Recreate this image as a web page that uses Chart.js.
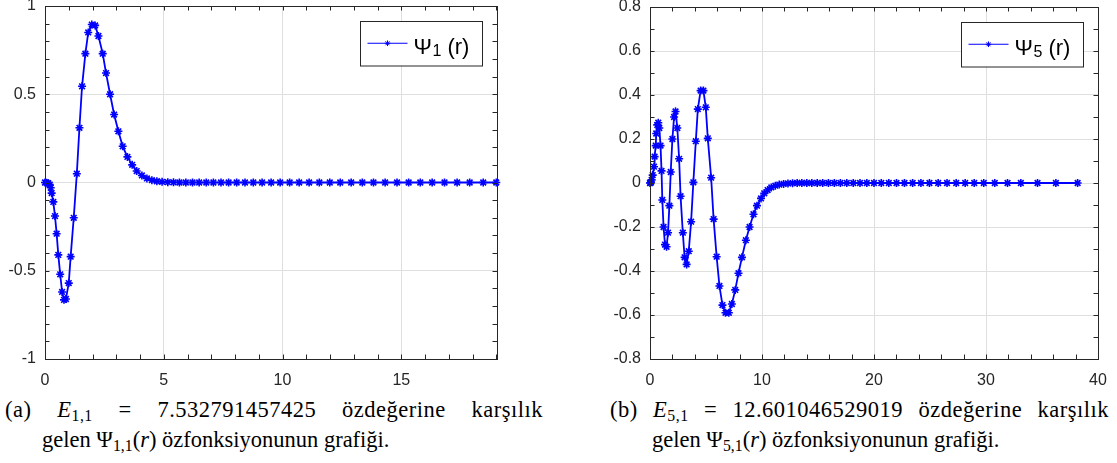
<!DOCTYPE html>
<html>
<head>
<meta charset="utf-8">
<script src="https://cdn.jsdelivr.net/npm/chart.js@4/dist/chart.umd.min.js"></script>
<style>
  html, body { margin: 0; padding: 0; background: #fff; }
  body { width: 1117px; height: 463px; position: relative; overflow: hidden; }
  canvas { position: absolute; top: 0; }
  #c1 { left: 0; }
  #c2 { left: 600px; }
  .cap { position: absolute; font-family: "Liberation Serif", "Times New Roman", serif; font-size: 22.5px; line-height: 24px; color: #000; white-space: nowrap; }
  .cap sub { font-size: 70%; vertical-align: -0.25em; line-height: 0; }
  .cap.first { white-space: normal; text-align: justify; text-align-last: justify; letter-spacing: 0.5px; }
</style>
</head>
<body>
<canvas id="c1" width="520" height="395"></canvas>
<canvas id="c2" width="517" height="395"></canvas>

<div class="cap first" style="left:5px; top:398px; width:538px;">(a) <i>E</i><sub>1,1</sub> = 7.532791457425 özdeğerine karşılık</div>
<div class="cap" style="left:42px; top:428px;">gelen Ψ<sub>1,1</sub>(<i>r</i>) özfonksiyonunun grafiği.</div>
<div class="cap first" style="left:610px; top:398px; width:499px;">(b) <i>E</i><sub>5,1</sub> = 12.601046529019 özdeğerine karşılık</div>
<div class="cap" style="left:652px; top:428px;">gelen Ψ<sub>5,1</sub>(<i>r</i>) özfonksiyonunun grafiği.</div>

<script>
// radial grid and wavefunction samples, psi_1(r)
const rLeft = [0.00, 0.06, 0.14, 0.20, 0.24, 0.28, 0.35, 0.42, 0.49, 0.56, 0.64, 0.72, 0.80, 0.88,
  1.00, 1.08, 1.21, 1.34, 1.45, 1.56, 1.70, 1.82, 1.97, 2.11, 2.25, 2.43, 2.57, 2.74, 2.91, 3.09,
  3.27, 3.47, 3.67, 3.86, 4.08, 4.29, 4.50, 4.71, 4.93, 5.17, 5.41, 5.66, 5.93, 6.21, 6.49, 6.79,
  7.09, 7.41, 7.73, 8.07, 8.42, 8.77, 9.14, 9.52, 9.90, 10.30, 10.70, 11.12, 11.55, 11.99, 12.43,
  12.89, 13.36, 13.83, 14.32, 14.82, 15.31, 15.80, 16.30, 16.82, 17.35, 17.88, 18.45, 19.00];
const psiLeft = [0.000, -0.001, -0.004, -0.012, -0.03, -0.06, -0.11, -0.19, -0.29, -0.41, -0.52, -0.62, -0.665, -0.66,
  -0.57, -0.42, -0.20, 0.05, 0.31, 0.545, 0.73, 0.85, 0.895, 0.89, 0.83, 0.73, 0.62, 0.50, 0.385, 0.29,
  0.205, 0.145, 0.10, 0.065, 0.04, 0.023, 0.013, 0.007, 0.004, 0.002, 0.001, 0, 0, 0, 0, 0,
  0, 0, 0, 0, 0, 0, 0, 0, 0, 0, 0, 0, 0, 0, 0,
  0, 0, 0, 0, 0, 0, 0, 0, 0, 0, 0, 0, 0];

// psi_5(r)
const rRight = [0.00, 0.045, 0.09, 0.15, 0.24, 0.36, 0.41, 0.51, 0.56, 0.65, 0.74, 0.83, 0.94, 1.03,
  1.10, 1.21, 1.34, 1.48, 1.61, 1.73, 1.85, 2.00, 2.15, 2.28, 2.44, 2.60, 2.73, 2.93, 3.09, 3.27,
  3.46, 3.67, 3.87, 4.09, 4.27, 4.52, 4.77, 4.98, 5.16, 5.46, 5.68, 5.95, 6.20, 6.47, 6.74, 7.04,
  7.31, 7.61, 7.90, 8.21, 8.56, 8.89, 9.24, 9.55, 9.91, 10.20, 10.50, 10.83, 11.19, 11.54, 11.93,
  12.32, 12.73, 13.14, 13.56, 14.00, 14.45, 14.93, 15.42, 15.93, 16.46, 17.00, 17.57, 18.15, 18.75,
  19.36, 20.00, 20.65, 21.32, 22.01, 22.72, 23.45, 24.19, 24.95, 25.73, 26.52, 27.34, 28.14, 28.95,
  29.80, 30.78, 31.92, 33.11, 34.60, 36.24, 38.18];
const psiRight = [0.000, 0.001, 0.004, 0.014, 0.036, 0.074, 0.12, 0.17, 0.225, 0.264, 0.274, 0.25, 0.17, 0.055,
  -0.077, -0.20, -0.28, -0.29, -0.226, -0.103, 0.05, 0.20, 0.30, 0.325, 0.25, 0.11, -0.06, -0.226, -0.338, -0.37,
  -0.31, -0.176, 0.003, 0.19, 0.336, 0.42, 0.42, 0.344, 0.203, 0.024, -0.164, -0.335, -0.468, -0.555, -0.59, -0.59,
  -0.55, -0.486, -0.41, -0.338, -0.26, -0.20, -0.142, -0.103, -0.07, -0.047, -0.032, -0.02, -0.012, -0.007, -0.004,
  -0.002, -0.001, 0, 0, 0, 0, 0, 0, 0, 0, 0, 0, 0, 0,
  0, 0, 0, 0, 0, 0, 0, 0, 0, 0, 0, 0, 0, 0,
  0, 0, 0, 0, 0, 0, 0];

const xTicksLeft = [0, 5, 10, 15];
const yTicksLeft = [-1, -0.5, 0, 0.5, 1];
const xTicksRight = [0, 10, 20, 30, 40];
const yTicksRight = [-0.8, -0.6, -0.4, -0.2, 0, 0.2, 0.4, 0.6, 0.8];

const BLUE = '#0000ff';
const AXIS = '#262626';
const GRID = '#dfdfdf';
const SANS = '"Liberation Sans", Arial, Helvetica, sans-serif';

// box around the axes with inward major/minor ticks on all four sides
const axesBox = {
  id: 'axesBox',
  afterDatasetsDraw(chart, args, o) {
    const { ctx, chartArea: a } = chart;
    const xs = chart.scales.x, ys = chart.scales.y;
    const L = 4.5;
    const px = v => Math.round(xs.getPixelForValue(v)) + 0.5;
    const py = v => Math.round(ys.getPixelForValue(v)) + 0.5;
    const steps = (min, max, step) => {
      const out = [];
      for (let k = Math.ceil(min / step - 1e-9); k * step <= max + 1e-9; k++) out.push(k * step);
      return out;
    };
    ctx.save();
    ctx.strokeStyle = AXIS;
    ctx.lineWidth = 1;
    ctx.beginPath();
    steps(xs.min, xs.max, o.minorX).forEach(v => {
      const p = px(v);
      ctx.moveTo(p, a.bottom); ctx.lineTo(p, a.bottom - L);
      ctx.moveTo(p, a.top); ctx.lineTo(p, a.top + L);
    });
    steps(ys.min, ys.max, o.minorY).forEach(v => {
      const p = py(v);
      ctx.moveTo(a.left, p); ctx.lineTo(a.left + L, p);
      ctx.moveTo(a.right, p); ctx.lineTo(a.right - L, p);
    });
    ctx.stroke();
    ctx.strokeRect(Math.round(a.left) + 0.5, Math.round(a.top) + 0.5,
      Math.round(a.right - a.left), Math.round(a.bottom - a.top));
    ctx.restore();
  }
};

// legend entry with a subscripted Psi
const legendBox = {
  id: 'legendBox',
  afterDraw(chart, args, o) {
    const { ctx, chartArea: a } = chart;
    const w = 122, h = 44.5;
    const x0 = Math.round(a.right - o.right - w), y0 = Math.round(a.top + o.top);
    ctx.save();
    ctx.fillStyle = '#fff';
    ctx.fillRect(x0, y0, w, h);
    ctx.strokeStyle = AXIS;
    ctx.lineWidth = 1;
    ctx.strokeRect(x0 + 0.5, y0 + 0.5, w, h);
    const cy = y0 + h / 2;
    ctx.strokeStyle = BLUE;
    ctx.beginPath();
    ctx.moveTo(x0 + 7.5, cy);
    ctx.lineTo(x0 + 47.5, cy);
    ctx.stroke();
    Chart.helpers.drawPoint(ctx, { pointStyle: 'star', radius: 2.8, borderWidth: 1, rotation: 0 }, x0 + 27.5, cy);
    ctx.fillStyle = '#000';
    ctx.textBaseline = 'alphabetic';
    let tx = x0 + 53.5;
    const by = y0 + 33;
    ctx.font = '22px ' + SANS;
    ctx.fillText('Ψ', tx, by);
    tx += ctx.measureText('Ψ').width + 0.5;
    ctx.font = '16px ' + SANS;
    ctx.fillText(o.sub, tx, by + 2);
    tx += ctx.measureText(o.sub).width;
    ctx.font = '22px ' + SANS;
    ctx.fillText(' (r)', tx, by);
    ctx.restore();
  }
};

function drawPanel(id, rs, psis, cfg) {
  const points = rs.map((r, i) => ({ x: r, y: psis[i] }));
  return new Chart(document.getElementById(id), {
    type: 'scatter',
    data: {
      datasets: [{
        data: points,
        showLine: true,
        borderColor: BLUE,
        backgroundColor: BLUE,
        borderWidth: 1.8,
        tension: 0,
        pointStyle: 'star',
        pointRadius: 4,
        pointBorderWidth: 1.6,
        pointBorderColor: BLUE,
        clip: false
      }]
    },
    options: {
      responsive: false,
      animation: false,
      events: [],
      layout: { padding: { top: cfg.padTop, right: cfg.padRight, bottom: 0, left: 0 } },
      plugins: {
        legend: { display: false },
        tooltip: { enabled: false },
        axesBox: { minorX: cfg.minorX, minorY: cfg.minorY },
        legendBox: { sub: cfg.sub, right: 15, top: 14.5 }
      },
      scales: {
        x: {
          type: 'linear',
          min: 0,
          max: cfg.xMax,
          grid: { color: GRID, lineWidth: 1, drawTicks: false },
          border: { display: false },
          ticks: { color: AXIS, font: { family: SANS, size: 16 }, padding: 12, maxRotation: 0, callback: v => String(v) },
          afterBuildTicks: s => { s.ticks = cfg.xTicks.map(v => ({ value: v })); },
          afterFit: s => { s.height = 36; s.paddingLeft = 0; s.paddingRight = 0; }
        },
        y: {
          min: cfg.yMin,
          max: cfg.yMax,
          grid: { color: GRID, lineWidth: 1, drawTicks: false },
          border: { display: false },
          ticks: { color: AXIS, font: { family: SANS, size: 16 }, padding: 9, callback: v => String(v) },
          afterBuildTicks: s => { s.ticks = cfg.yTicks.map(v => ({ value: v })); },
          afterFit: s => { s.width = cfg.yWidth; s.paddingTop = 0; s.paddingBottom = 0; }
        }
      }
    },
    plugins: [axesBox, legendBox]
  });
}

drawPanel('c1', rLeft, psiLeft, {
  xMax: 19.03, yMin: -1, yMax: 1,
  xTicks: xTicksLeft, yTicks: yTicksLeft,
  minorX: 1, minorY: 0.1,
  padTop: 6, padRight: 23, yWidth: 45, sub: '1'
});

drawPanel('c2', rRight, psiRight, {
  xMax: 40, yMin: -0.8, yMax: 0.8,
  xTicks: xTicksRight, yTicks: yTicksRight,
  minorX: 2, minorY: 0.1,
  padTop: 7, padRight: 19, yWidth: 50, sub: '5'
});
</script>
</body>
</html>
